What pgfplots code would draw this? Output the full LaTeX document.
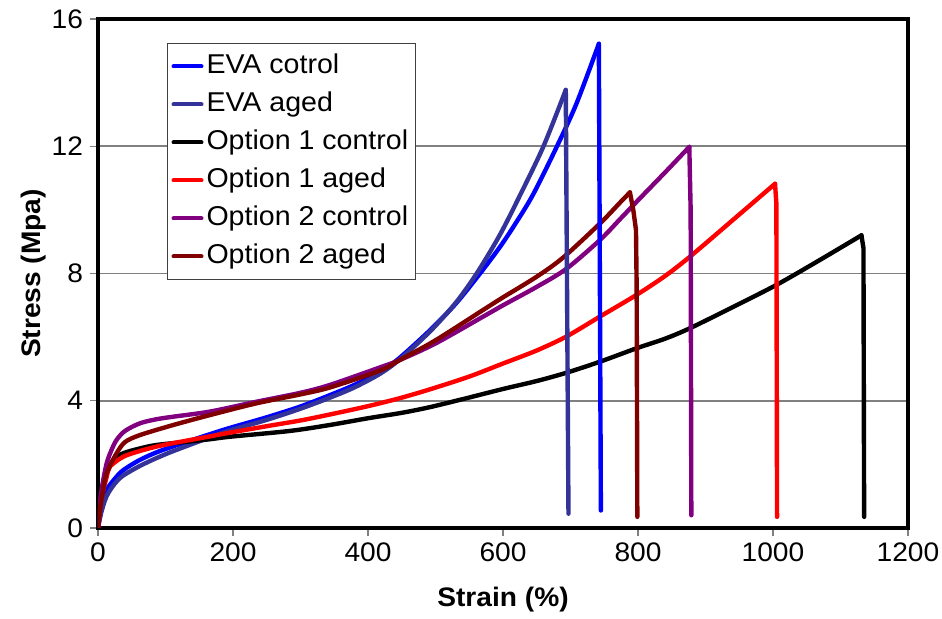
\documentclass[border=0pt]{standalone}
\usepackage{fontspec}
\setmainfont{Liberation Sans}[FakeStretch=1.05]
\usepackage{pgfplots}
\pgfplotsset{compat=1.18}
\definecolor{evaaged}{HTML}{333399}
\definecolor{optpurple}{HTML}{800080}
\definecolor{optmaroon}{HTML}{800000}
\begin{document}
\begin{tikzpicture}
\begin{axis}[
  at={(0,0)}, anchor=south west,
  scale only axis, width=405pt, height=254.5pt,
  xmin=0, xmax=1200, ymin=0, ymax=16,
  xtick={0,200,...,1200}, ytick={0,4,8,12,16},
  tick pos=left, tick align=outside,
  major tick length=4pt,
  tick style={gray, line width=0.6pt},
  ymajorgrids, grid style={gray, line width=0.8pt},
  axis line style={black, line width=2pt},
  /pgf/number format/assume math mode=true,
  /pgf/number format/1000 sep={},
  ticklabel style={font=\fontsize{13.4}{15}\selectfont},
  xlabel={\textbf{Strain (\%)}},
  ylabel={\textbf{Stress (Mpa)}},
  xlabel style={at={(axis description cs:0.5,-0.155)}, anchor=base, font=\fontsize{13.4}{15}\selectfont},
  ylabel style={at={(axis description cs:-0.0716,0.5)}, anchor=base, font=\fontsize{13.4}{15}\selectfont},
  legend style={at={(axis description cs:0.0852,0.953)}, anchor=north west,
    draw=black!75, line width=0.5pt, font=\fontsize{13.6}{15}\selectfont,
    inner xsep=2pt, inner ysep=2pt, row sep=0pt,
    nodes={text height=10pt, text depth=3pt, inner ysep=3pt, inner xsep=1.5pt}},
  legend cell align=left,
  legend image code/.code={\draw[#1, line width=2pt] (0pt,0pt) -- (14pt,0pt);},
  every axis plot/.append style={line width=2.2pt, line join=round, line cap=round},
]
% EVA control
\addplot[color=blue, smooth, tension=0.5] coordinates {
(0,0) (5,0.6) (12.8,1.19) (25,1.55) (37.5,1.82) (62,2.14) (87,2.38) (112,2.57)
(166,2.95) (196,3.15) (250,3.48) (300,3.82) (344,4.18) (380,4.5) (418,4.9)
(447,5.35) (492,6.22) (530,7.05) (566,8.0) (596,8.85) (620,9.62) (645,10.5)
(680,12.0) (709,13.35) (742,15.22)};
\addlegendentry{EVA cotrol}
% EVA aged
\addplot[color=evaaged, smooth, tension=0.5] coordinates {
(0,0) (5,0.5) (12.8,1.0) (25,1.4) (37.5,1.65) (62,1.95) (87,2.2) (112,2.42)
(166,2.85) (196,3.07) (250,3.4) (300,3.75) (344,4.1) (380,4.42) (418,4.85)
(447,5.3) (492,6.18) (530,7.08) (561,8.0) (595,9.2) (625,10.45) (660,12.0) (693,13.77)};
\addlegendentry{EVA aged}
% Option 1 control
\addplot[color=black, smooth, tension=0.5] coordinates {
(0,0) (5,1.0) (12.8,1.7) (22.7,2.14) (37.5,2.35) (62,2.5) (87,2.61) (136,2.72)
(166,2.79) (196,2.87) (284,3.05) (344,3.24) (400,3.45) (450,3.62) (492,3.8)
(546,4.08) (600,4.37) (650,4.62) (694,4.88) (744,5.23) (798,5.65) (840,5.95) (877,6.28)
(941,6.95) (1005,7.64) (1065,8.37) (1131,9.2)};
\addlegendentry{Option 1 control}
% Option 1 aged
\addplot[color=red, smooth, tension=0.5] coordinates {
(0,0) (5,0.9) (12.8,1.6) (17.8,1.93) (37.5,2.24) (62,2.42) (87,2.56) (112,2.67)
(166,2.88) (196,3.0) (250,3.2) (300,3.38) (344,3.57) (400,3.83) (447,4.08)
(492,4.36) (550,4.76) (600,5.17) (650,5.58) (694,6.02) (744,6.65) (798,7.33)
(840,7.92) (877,8.53) (941,9.69) (1003,10.82)};
\addlegendentry{Option 1 aged}
% Option 2 control
\addplot[color=optpurple, smooth, tension=0.5] coordinates {
(0,0) (3,0.8) (6,1.3) (12.8,2.03) (20,2.45) (27.6,2.77) (40,3.05) (62,3.29)
(87,3.42) (112,3.5) (166,3.66) (235,3.97) (300,4.25) (344,4.5) (418,5.05)
(447,5.28) (500,5.8) (571,6.65) (600,7.0) (650,7.58) (694,8.15) (744,9.06)
(773,9.7) (800,10.3) (842,11.22) (876,11.98)};
\addlegendentry{Option 2 control}
% Option 2 aged
\addplot[color=optmaroon, smooth, tension=0.5] coordinates {
(0,0) (3,0.6) (6,1.0) (12.8,1.72) (27.6,2.35) (40,2.7) (62,2.92) (112,3.24)
(166,3.55) (235,3.92) (300,4.2) (344,4.42) (418,4.95) (447,5.28) (500,5.9)
(571,6.86) (600,7.25) (650,7.9) (689,8.5) (744,9.58) (773,10.22) (788,10.55)};
\addlegendentry{Option 2 aged}
% failure drops
\addplot[color=blue, forget plot] coordinates {(742,15.22) (745,0.55)};
\addplot[color=evaaged, forget plot] coordinates {(693,13.77) (697,0.45)};
\addplot[color=black, forget plot] coordinates {(1131,9.2) (1134,8.8) (1135,0.35)};
\addplot[color=red, forget plot] coordinates {(1003,10.82) (1005,10.2) (1006,0.35)};
\addplot[color=optpurple, forget plot] coordinates {(876,11.98) (878,10.0) (879,0.4)};
\addplot[color=optmaroon, forget plot] coordinates {(788,10.55) (793,10.0) (797,9.37) (798,7.6) (799,0.35)};
\end{axis}
\pgfresetboundingbox
\path (-49pt,-45.5pt) rectangle (422pt,264pt);
\end{tikzpicture}
\end{document}
